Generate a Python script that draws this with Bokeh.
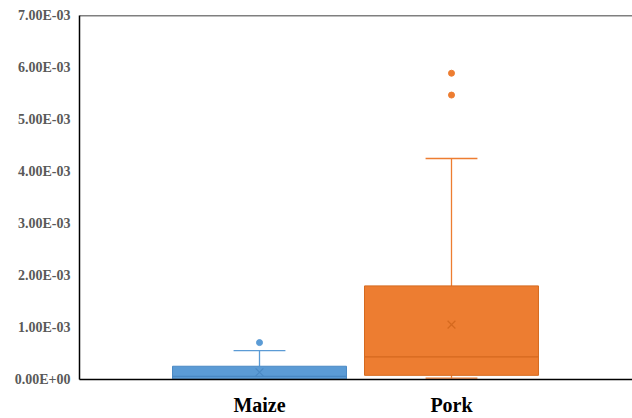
from bokeh.plotting import figure
from bokeh.models import FixedTicker, CustomJSTickFormatter, Span, ColumnDataSource
from bokeh.embed import file_html
from bokeh.resources import INLINE

categories = ["Maize", "Pork"]
positions = [1, 2]
q1 = [0.000013, 0.00008]
median = [0.00006, 0.000435]
q3 = [0.000255, 0.00180]
mean = [0.00014, 0.001055]
whisker_low = [0.0, 0.000025]
whisker_high = [0.000556, 0.00425]
outlier_x = [1, 2, 2]
outlier_y = [0.00071, 0.00589, 0.00547]
fill_colors = ["#5B9BD5", "#ED7D31"]
line_colors = ["#4A89C4", "#D5691E"]
outlier_colors = ["#5B9BD5", "#ED7D31", "#ED7D31"]
y_ticks = [0, 0.001, 0.002, 0.003, 0.004, 0.005, 0.006, 0.007]

box_w = 0.906
cap_w = 0.27

p = figure(width=632, height=418, output_backend="svg", toolbar_location=None,
           x_range=(0.0625, 2.9427), y_range=(0, 0.007),
           min_border_left=79, min_border_right=0, min_border_top=15, min_border_bottom=38)
p.outline_line_color = None
p.grid.visible = False
p.background_fill_color = "white"

src = ColumnDataSource(dict(x=positions, q1=q1, med=median, q3=q3, mean=mean,
                            lo=whisker_low, hi=whisker_high,
                            fill=fill_colors, line=line_colors,
                            xl=[v - box_w / 2 for v in positions],
                            xr=[v + box_w / 2 for v in positions],
                            cl=[v - cap_w / 2 for v in positions],
                            cr=[v + cap_w / 2 for v in positions]))

# whiskers
p.segment(x0="x", y0="q3", x1="x", y1="hi", line_color="fill", line_width=1.3, source=src)
p.segment(x0="x", y0="lo", x1="x", y1="q1", line_color="fill", line_width=1.3, source=src)
p.segment(x0="cl", y0="hi", x1="cr", y1="hi", line_color="fill", line_width=1.3, source=src)
p.segment(x0="cl", y0="lo", x1="cr", y1="lo", line_color="fill", line_width=1.3, source=src)
# boxes
p.vbar(x="x", width=box_w, bottom="q1", top="q3", fill_color="fill", line_color="line",
       line_width=1, source=src)
# medians
p.segment(x0="xl", y0="med", x1="xr", y1="med", line_color="line", line_width=1.3, source=src)
# means
p.scatter(x="x", y="mean", marker="x", size=11, line_color="line", line_width=1.2, source=src)
# outliers
p.scatter(x=outlier_x, y=outlier_y, marker="circle", size=6, fill_color=outlier_colors,
          line_color=outlier_colors)

p.add_layout(Span(location=0.007, dimension="width", line_color="black", line_width=1.5))

p.yaxis.ticker = FixedTicker(ticks=y_ticks)
p.yaxis.formatter = CustomJSTickFormatter(code="""
let s = Math.abs(tick) < 1e-12 ? (0).toExponential(2) : tick.toExponential(2);
let parts = s.split('e');
let sign = parts[1][0];
let d = parts[1].slice(1).padStart(2, '0');
return parts[0] + 'E' + sign + d;
""")
p.yaxis.major_tick_line_color = None
p.yaxis.minor_tick_line_color = None
p.yaxis.major_tick_out = 0
p.yaxis.major_tick_in = 0
p.yaxis.axis_line_color = "black"
p.yaxis.axis_line_width = 1.5
p.yaxis.major_label_text_font = "Liberation Serif"
p.yaxis.major_label_text_font_style = "bold"
p.yaxis.major_label_text_font_size = "14px"
p.yaxis.major_label_text_color = "#595959"
p.yaxis.major_label_standoff = 9

p.xaxis.ticker = FixedTicker(ticks=positions)
p.xaxis.major_label_overrides = {positions[i]: categories[i] for i in range(len(categories))}
p.xaxis.major_tick_line_color = None
p.xaxis.minor_tick_line_color = None
p.xaxis.major_tick_out = 0
p.xaxis.major_tick_in = 0
p.xaxis.axis_line_color = "black"
p.xaxis.axis_line_width = 1.5
p.xaxis.major_label_text_font = "Liberation Serif"
p.xaxis.major_label_text_font_style = "bold"
p.xaxis.major_label_text_font_size = "20px"
p.xaxis.major_label_text_color = "black"
p.xaxis.major_label_standoff = 14

open("out.html", "w").write(file_html(p, INLINE))
